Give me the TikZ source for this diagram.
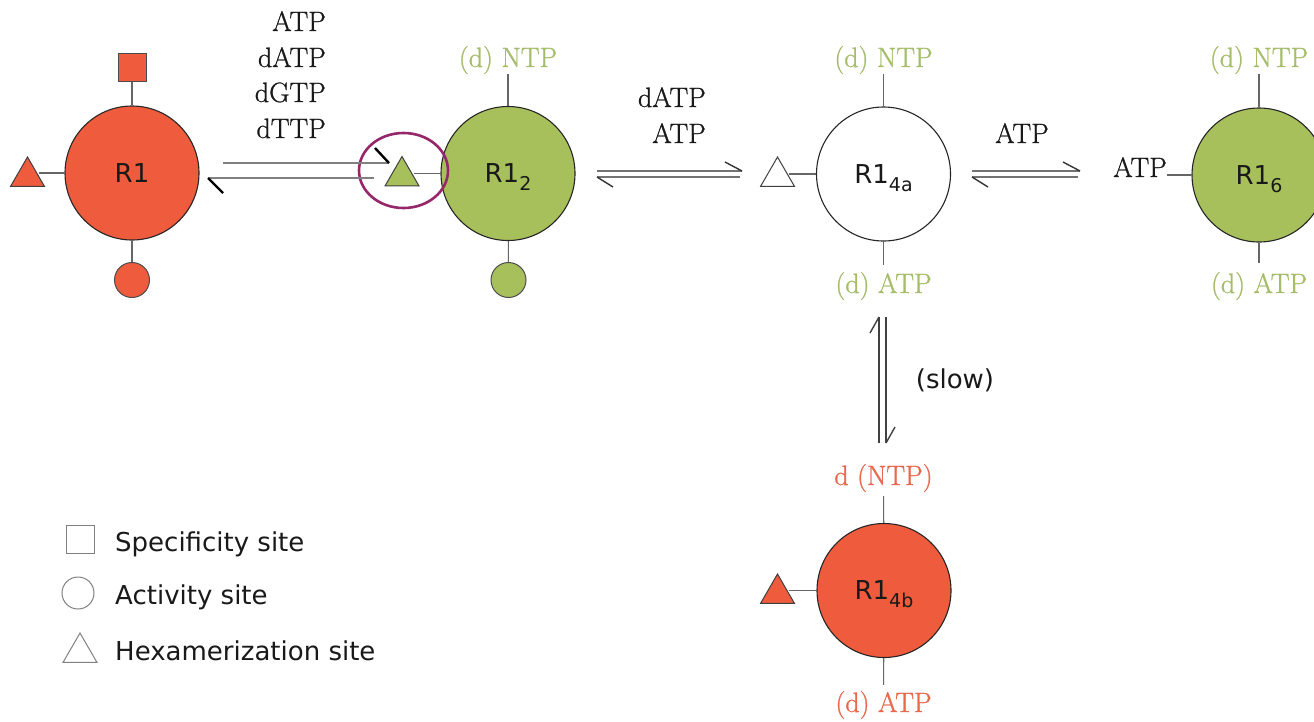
\documentclass[tikz,border=0pt]{standalone}
\usepackage{fontspec}
\setmainfont{Latin Modern Roman}
\newfontfamily\serifh{Latin Modern Roman}[FakeBold=0.9]
\newfontfamily\sansf{DejaVu Sans}
\usetikzlibrary{shapes.geometric,calc}

\definecolor{rr}{RGB}{239,91,61}
\definecolor{gg}{RGB}{167,192,92}
\definecolor{gtext}{RGB}{165,189,105}
\definecolor{rtext}{RGB}{233,104,76}
\definecolor{ring}{RGB}{150,40,105}

% subscript of the unit names
\newcommand{\usub}[1]{\raisebox{-8pt}[0pt][0pt]{\fontsize{19}{19}\selectfont #1}}

\begin{document}
\begin{tikzpicture}[x=1pt,y=-1pt,
  serif/.style={font=\serifh\fontsize{28}{32}\selectfont, inner sep=0pt, text=black!90},
  sans/.style={font=\sansf\fontsize{26}{30}\selectfont, inner sep=0pt, text=black!90},
  unit/.style={circle, draw=black!85, line width=1.1pt, minimum size=134pt, inner sep=0pt, sans},
  specsite/.style={rectangle, draw=black!70, line width=1pt, minimum size=28pt, inner sep=0pt},
  actsite/.style={circle, draw=black!70, line width=1pt, minimum size=35pt, inner sep=0pt},
  hexsite/.style={regular polygon, regular polygon sides=3, draw=black!75, line width=1pt, minimum size=39pt, inner sep=0pt},
  stem/.style={draw=black!60, line width=1.1pt},
  rail/.style={draw=black!50, line width=2.4pt},
  barb/.style={draw=black, line width=2.4pt},
  fine rail/.style={draw=black!55, line width=1.8pt},
  fine barb/.style={draw=black!80, line width=1.4pt},
  slow rail/.style={draw=black!75, line width=1.4pt}
]
\useasboundingbox (0,0) rectangle (1314,721);
\clip (0,0) rectangle (1314,721);
\fill[white] (0,0) rectangle (1314,721);

% ---------- R1 (monomer) ----------
\node[unit, fill=rr] (u1) at (132,173) {R1};
\node[specsite, fill=rr] (s1) at (132,67) {};
\node[actsite, fill=rr] (a1) at (132,280) {};
\node[hexsite, fill=rr] (t1) at (27.5,176.5) {};
\draw[stem] (s1) -- (u1);
\draw[stem] (u1) -- (a1);
\draw[stem] (u1.west) -- (t1.east |- u1.west);

% ---------- R1_2 ----------
\node[unit, fill=gg] (u2) at (508,173.5) {R1\usub{2}};
\node[serif, text=gtext, anchor=base] (n2) at (508,67) {(d) NTP};
\node[actsite, fill=gg] (a2) at (508.5,280) {};
\node[hexsite, fill=gg] (t2) at (402,176) {};
\draw[stem] (n2) -- (u2);
\draw[stem] (u2) -- (a2);
\draw[stem] (u2.west) -- (t2.east |- u2.west);

% ---------- R1_4a ----------
\node[unit, fill=white] (u4a) at (883.5,174) {R1\usub{4a}};
\node[serif, text=gtext, anchor=base] (n4a) at (883.5,67) {(d) NTP};
\node[serif, text=gtext, anchor=base] (b4a) at (883.5,293) {(d) ATP};
\node[hexsite, fill=white] (t4a) at (777.5,176.5) {};
\draw[stem] (n4a) -- (u4a);
\draw[stem, shorten >=7pt] (u4a) -- (b4a);
\draw[stem] (u4a.west) -- (t4a.east |- u4a.west);

% ---------- R1_6 ----------
\node[unit, fill=gg] (u6) at (1259,175) {R1\usub{6}};
\node[serif, text=gtext, anchor=base] (n6) at (1259,67) {(d) NTP};
\node[serif, text=gtext, anchor=base] (b6) at (1259,293) {(d) ATP};
\node[serif, anchor=base east] (l6) at (1167,177) {ATP};
\draw[stem] (n6) -- (u6);
\draw[stem, shorten >=9pt] (u6) -- (b6);
\draw[stem] (l6.east |- u6.west) -- (u6.west);

% ---------- R1_4b ----------
\node[unit, fill=rr] (u4b) at (884,590.5) {R1\usub{4b}};
\node[serif, text=rtext, anchor=base] (n4b) at (883.5,485) {d (NTP)};
\node[serif, text=rtext, anchor=base] (b4b) at (883.5,712) {(d) ATP};
\node[hexsite, fill=rr] (t4b) at (777.5,593.5) {};
\draw[stem, shorten <=4pt] (n4b) -- (u4b);
\draw[stem, shorten >=6pt] (u4b) -- (b4b);
\draw[stem] (u4b.west) -- (t4b.east |- u4b.west);

% ---------- highlight round the hexamerization site ----------
\node[ellipse, draw=ring, line width=2.6pt, minimum width=89pt, minimum height=75pt, inner sep=0pt] (hl) at (403.5,170.5) {};

% ---------- effector labels ----------
\node[serif, anchor=base east] (e1) at (326,31) {ATP};
\node[serif, anchor=base east] (e2) at (326,67) {dATP};
\node[serif, anchor=base east] (e3) at (326,102) {dGTP};
\node[serif, anchor=base east] (e4) at (326,138) {dTTP};
\node[serif, anchor=base east] (e5) at (706,107) {dATP};
\node[serif, anchor=base east] (e6) at (706,143) {ATP};
\node[serif, anchor=base] (e7) at (1022,143) {ATP};
\node[sans, anchor=base] (sl) at (955,388) {(slow)};

% ---------- equilibrium harpoons ----------
% R1 <=> R1_2
\coordinate (h1a) at (223,163);
\coordinate (h1b) at (389,163);
\coordinate (h1c) at (375,148);
\coordinate (h1d) at (374,178);
\coordinate (h1e) at (208,178);
\coordinate (h1f) at (223,193);
\draw[rail] (h1a) -- (h1b);
\draw[rail] (h1d) -- (h1e);
\draw[barb] (h1c) -- (h1b);
\draw[barb] (h1e) -- (h1f);

% R1_2 <=> R1_4a
\coordinate (h2a) at (597,171);
\coordinate (h2b) at (742,171);
\coordinate (h2c) at (725,162);
\coordinate (h2d) at (740,177);
\coordinate (h2e) at (597,177);
\coordinate (h2f) at (613,187);
\draw[fine rail] (h2a) -- (h2b);
\draw[fine rail] (h2d) -- (h2e);
\draw[fine barb] (h2c) -- (h2b);
\draw[fine barb] (h2e) -- (h2f);

% R1_4a <=> R1_6
\coordinate (h3a) at (972,171);
\coordinate (h3b) at (1080,171);
\coordinate (h3c) at (1063,162);
\coordinate (h3d) at (1078,177);
\coordinate (h3e) at (972,177);
\coordinate (h3f) at (988,187);
\draw[fine rail] (h3a) -- (h3b);
\draw[fine rail] (h3d) -- (h3e);
\draw[fine barb] (h3c) -- (h3b);
\draw[fine barb] (h3e) -- (h3f);

% R1_4a <=> R1_4b (slow)
\coordinate (v1a) at (879,443);
\coordinate (v1b) at (879,317);
\coordinate (v1c) at (870,333);
\coordinate (v2a) at (886,317);
\coordinate (v2b) at (886,443);
\coordinate (v2c) at (895,427);
\draw[slow rail] (v1a) -- (v1b);
\draw[slow rail] (v2a) -- (v2b);
\draw[slow rail] (v1c) -- (v1b);
\draw[slow rail] (v2c) -- (v2b);

% ---------- legend ----------
\node[specsite, draw=black!50, fill=white] (k1) at (80,539) {};
\node[actsite, draw=black!50, minimum size=32pt] (k2) at (78,593) {};
\node[hexsite, draw=black!50] (k3) at (80,652.5) {};
\node[sans, anchor=base west] (k1t) at (115,551) {Specificity site};
\node[sans, anchor=base west] (k2t) at (115,604) {Activity site};
\node[sans, anchor=base west] (k3t) at (115,660) {Hexamerization site};
\end{tikzpicture}
\end{document}
